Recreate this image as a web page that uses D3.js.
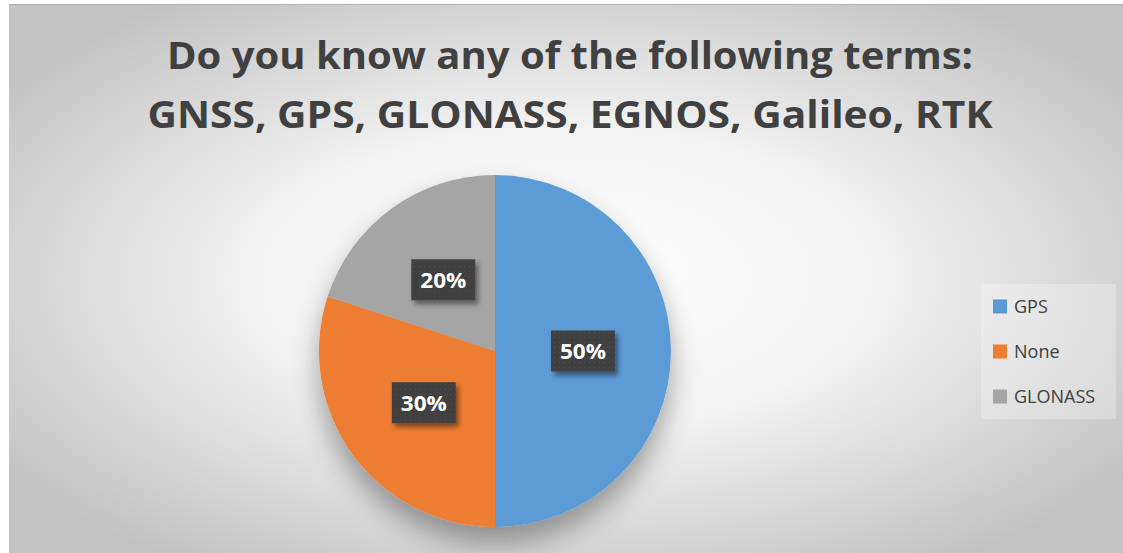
<!DOCTYPE html>
<html>
<head>
<meta charset="utf-8">
<script src="https://cdn.jsdelivr.net/npm/d3@7"></script>
<style>
  html, body { margin: 0; padding: 0; background: #fff; }
  svg { display: block; }
</style>
</head>
<body>
<svg id="chart" width="1123" height="553"></svg>
<script>
// data
const categories = ['GPS', 'None', 'GLONASS'];
const shares = [50, 30, 20];
const colours = ['#5B9BD5', '#ED7D31', '#A5A5A5'];
const titleLines = ['Do you know any of the following terms:', 'GNSS, GPS, GLONASS, EGNOS, Galileo, RTK'];

const W = 1123, H = 553;
const svg = d3.select('#chart');
const defs = svg.append('defs');

// background gradient of the chart area
const bg = defs.append('radialGradient')
  .attr('id', 'bg')
  .attr('cx', '50%').attr('cy', '50%').attr('r', '62%')
  .attr('gradientUnits', 'objectBoundingBox');
bg.append('stop').attr('offset', '0%').attr('stop-color', '#ffffff');
bg.append('stop').attr('offset', '45%').attr('stop-color', '#f2f2f2');
bg.append('stop').attr('offset', '100%').attr('stop-color', '#c2c2c2');

// soft shadow under the pie
const sh = defs.append('filter').attr('id', 'pieShadow')
  .attr('x', '-30%').attr('y', '-30%').attr('width', '160%').attr('height', '170%');
sh.append('feGaussianBlur').attr('in', 'SourceAlpha').attr('stdDeviation', 14).attr('result', 'b');
sh.append('feOffset').attr('in', 'b').attr('dy', 16).attr('result', 'o');
sh.append('feComponentTransfer').attr('in', 'o').attr('result', 'o2')
  .append('feFuncA').attr('type', 'linear').attr('slope', 0.35);
const shm = sh.append('feMerge');
shm.append('feMergeNode').attr('in', 'o2');
shm.append('feMergeNode').attr('in', 'SourceGraphic');

// label box shadow
const lsh = defs.append('filter').attr('id', 'boxShadow')
  .attr('x', '-30%').attr('y', '-30%').attr('width', '170%').attr('height', '180%');
lsh.append('feGaussianBlur').attr('in', 'SourceAlpha').attr('stdDeviation', 2.5).attr('result', 'b');
lsh.append('feOffset').attr('in', 'b').attr('dx', 3).attr('dy', 4).attr('result', 'o');
lsh.append('feComponentTransfer').attr('in', 'o').attr('result', 'o2')
  .append('feFuncA').attr('type', 'linear').attr('slope', 0.45);
const lm = lsh.append('feMerge');
lm.append('feMergeNode').attr('in', 'o2');
lm.append('feMergeNode').attr('in', 'SourceGraphic');

// dotted texture of the label boxes
const pat = defs.append('pattern').attr('id', 'dots')
  .attr('width', 5).attr('height', 5).attr('patternUnits', 'userSpaceOnUse');
pat.append('rect').attr('width', 5).attr('height', 5).attr('fill', '#404040');
pat.append('rect').attr('x', 1).attr('y', 1).attr('width', 1).attr('height', 1).attr('fill', '#555');

// chart area
svg.append('rect')
  .attr('x', 9).attr('y', 4).attr('width', W - 9).attr('height', H - 4)
  .attr('fill', 'url(#bg)');
svg.append('line')
  .attr('x1', 9).attr('x2', W).attr('y1', 4.5).attr('y2', 4.5)
  .attr('stroke', '#b0b0b0').attr('stroke-width', 1);

// title
const title = svg.append('g')
  .attr('font-family', 'Open Sans, sans-serif')
  .attr('font-weight', 700)
  .attr('font-size', 37)
  .attr('fill', '#404040')
  .attr('text-anchor', 'middle');
const titleBase = [69, 128];
const titleWidth = [806, 845];
title.selectAll('text').data(titleLines).join('text')
  .attr('x', 570)
  .attr('y', (d, i) => titleBase[i])
  .attr('textLength', (d, i) => titleWidth[i])
  .attr('lengthAdjust', 'spacingAndGlyphs')
  .text(d => d);

// pie
const cx = 495, cy = 351, r = 176;
const pie = d3.pie().sort(null).value(d => d.value);
const arcs = pie(categories.map((c, i) => ({ name: c, value: shares[i] })));
const arc = d3.arc().innerRadius(0).outerRadius(r);

const g = svg.append('g').attr('transform', `translate(${cx},${cy})`);
g.append('g').attr('filter', 'url(#pieShadow)')
  .selectAll('path').data(arcs).join('path')
  .attr('d', arc)
  .attr('fill', (d, i) => colours[i]);

// data labels
const boxW = 64, boxH = 41;
const labels = g.selectAll('g.lbl').data(arcs).join('g')
  .attr('class', 'lbl')
  .attr('transform', d => {
    const [x, y] = arc.centroid(d);
    return `translate(${x},${y})`;
  });
labels.append('rect')
  .attr('x', -boxW / 2).attr('y', -boxH / 2)
  .attr('width', boxW).attr('height', boxH)
  .attr('fill', 'url(#dots)')
  .attr('filter', 'url(#boxShadow)');
labels.append('text')
  .attr('text-anchor', 'middle')
  .attr('dy', '0.37em')
  .attr('font-family', 'Open Sans, sans-serif')
  .attr('font-weight', 700)
  .attr('font-size', 22)
  .attr('fill', '#fff')
  .attr('textLength', 46)
  .attr('lengthAdjust', 'spacingAndGlyphs')
  .text(d => d.data.value + '%');

// legend
const legend = svg.append('g');
legend.append('rect')
  .attr('x', 981).attr('y', 284).attr('width', 135).attr('height', 135)
  .attr('fill', '#ffffff').attr('fill-opacity', 0.25);
const ly = d3.scalePoint().domain(categories).range([306.5, 396.5]);
const items = legend.selectAll('g.item').data(categories).join('g')
  .attr('class', 'item')
  .attr('transform', d => `translate(993,${ly(d)})`);
items.append('rect')
  .attr('x', 0).attr('y', -7).attr('width', 14).attr('height', 14)
  .attr('fill', (d, i) => colours[i]);
items.append('text')
  .attr('x', 21).attr('dy', '0.36em')
  .attr('font-family', 'Open Sans, sans-serif')
  .attr('font-size', 18)
  .attr('fill', '#404040')
  .text(d => d);
</script>
</body>
</html>
